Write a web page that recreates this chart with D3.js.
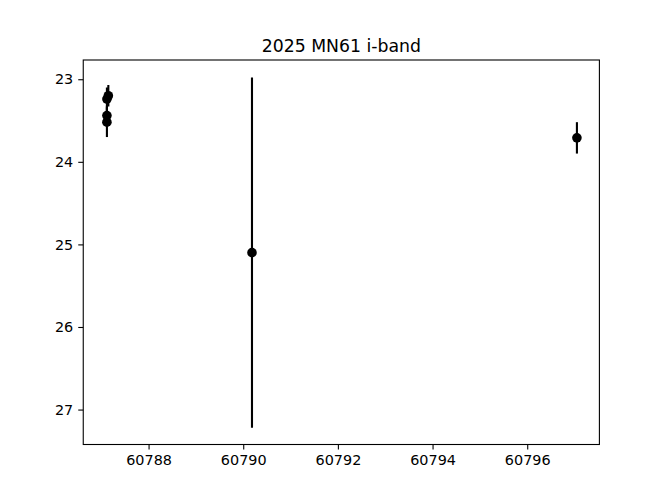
<!DOCTYPE html>
<html>
<head>
<meta charset="utf-8">
<script src="https://cdn.jsdelivr.net/npm/d3@7"></script>
<style>
  body { margin: 0; background: #fff; }
  text { font-family: "DejaVu Sans", sans-serif; }
</style>
</head>
<body>
<svg id="chart" width="666" height="500"></svg>
<script>
// observation epochs (MJD), magnitudes and errors
const mjd = [60787.12, 60787.15, 60787.12, 60787.12, 60790.185, 60797.05];
const mag = [23.24, 23.20, 23.44, 23.52, 25.10, 23.71];
const magErr = [0.14, 0.13, 0.12, 0.18, 2.12, 0.19];
const xTicks = [60788, 60790, 60792, 60794, 60796];
const yTicks = [23, 24, 25, 26, 27];
const title = "2025 MN61 i-band";

const svg = d3.select("#chart");
const margin = {left: 83.25, right: 599.4, top: 60, bottom: 444.5};

const x = d3.scaleLinear().domain([60786.62, 60797.525]).range([margin.left, margin.right]);
const y = d3.scaleLinear().domain([22.767, 27.423]).range([margin.top, margin.bottom]); // inverted magnitude axis

const pts = mjd.map((d, i) => ({t: d, m: mag[i], e: magErr[i]}));

// axes
const xAxis = d3.axisBottom(x).tickValues(xTicks).tickFormat(d3.format("d")).tickSize(5).tickPadding(5);
const yAxis = d3.axisLeft(y).tickValues(yTicks).tickFormat(d3.format("d")).tickSize(5).tickPadding(5);

const gx = svg.append("g").attr("transform", `translate(0,${margin.bottom})`).call(xAxis);
const gy = svg.append("g").attr("transform", `translate(${margin.left},0)`).call(yAxis);
[gx, gy].forEach(g => {
  g.select(".domain").remove();
  g.selectAll(".tick line").attr("stroke", "#000").attr("stroke-width", 1.1);
  g.selectAll(".tick text").attr("fill", "#000").attr("font-size", 14.4)
    .attr("font-family", "DejaVu Sans, sans-serif");
});

// error bars
svg.append("g").selectAll("line")
  .data(pts)
  .enter().append("line")
  .attr("x1", d => x(d.t))
  .attr("x2", d => x(d.t))
  .attr("y1", d => y(d.m - d.e))
  .attr("y2", d => y(d.m + d.e))
  .attr("stroke", "#000")
  .attr("stroke-width", 2.1);

// markers
svg.append("g").selectAll("circle")
  .data(pts)
  .enter().append("circle")
  .attr("cx", d => x(d.t))
  .attr("cy", d => y(d.m))
  .attr("r", 4.8)
  .attr("fill", "#000");

// frame
svg.append("rect")
  .attr("x", margin.left).attr("y", margin.top)
  .attr("width", margin.right - margin.left)
  .attr("height", margin.bottom - margin.top)
  .attr("fill", "none").attr("stroke", "#000").attr("stroke-width", 1.1);

svg.append("text")
  .attr("x", (margin.left + margin.right) / 2)
  .attr("y", 51.5)
  .attr("text-anchor", "middle")
  .attr("font-size", 17.3)
  .text(title);
</script>
</body>
</html>
